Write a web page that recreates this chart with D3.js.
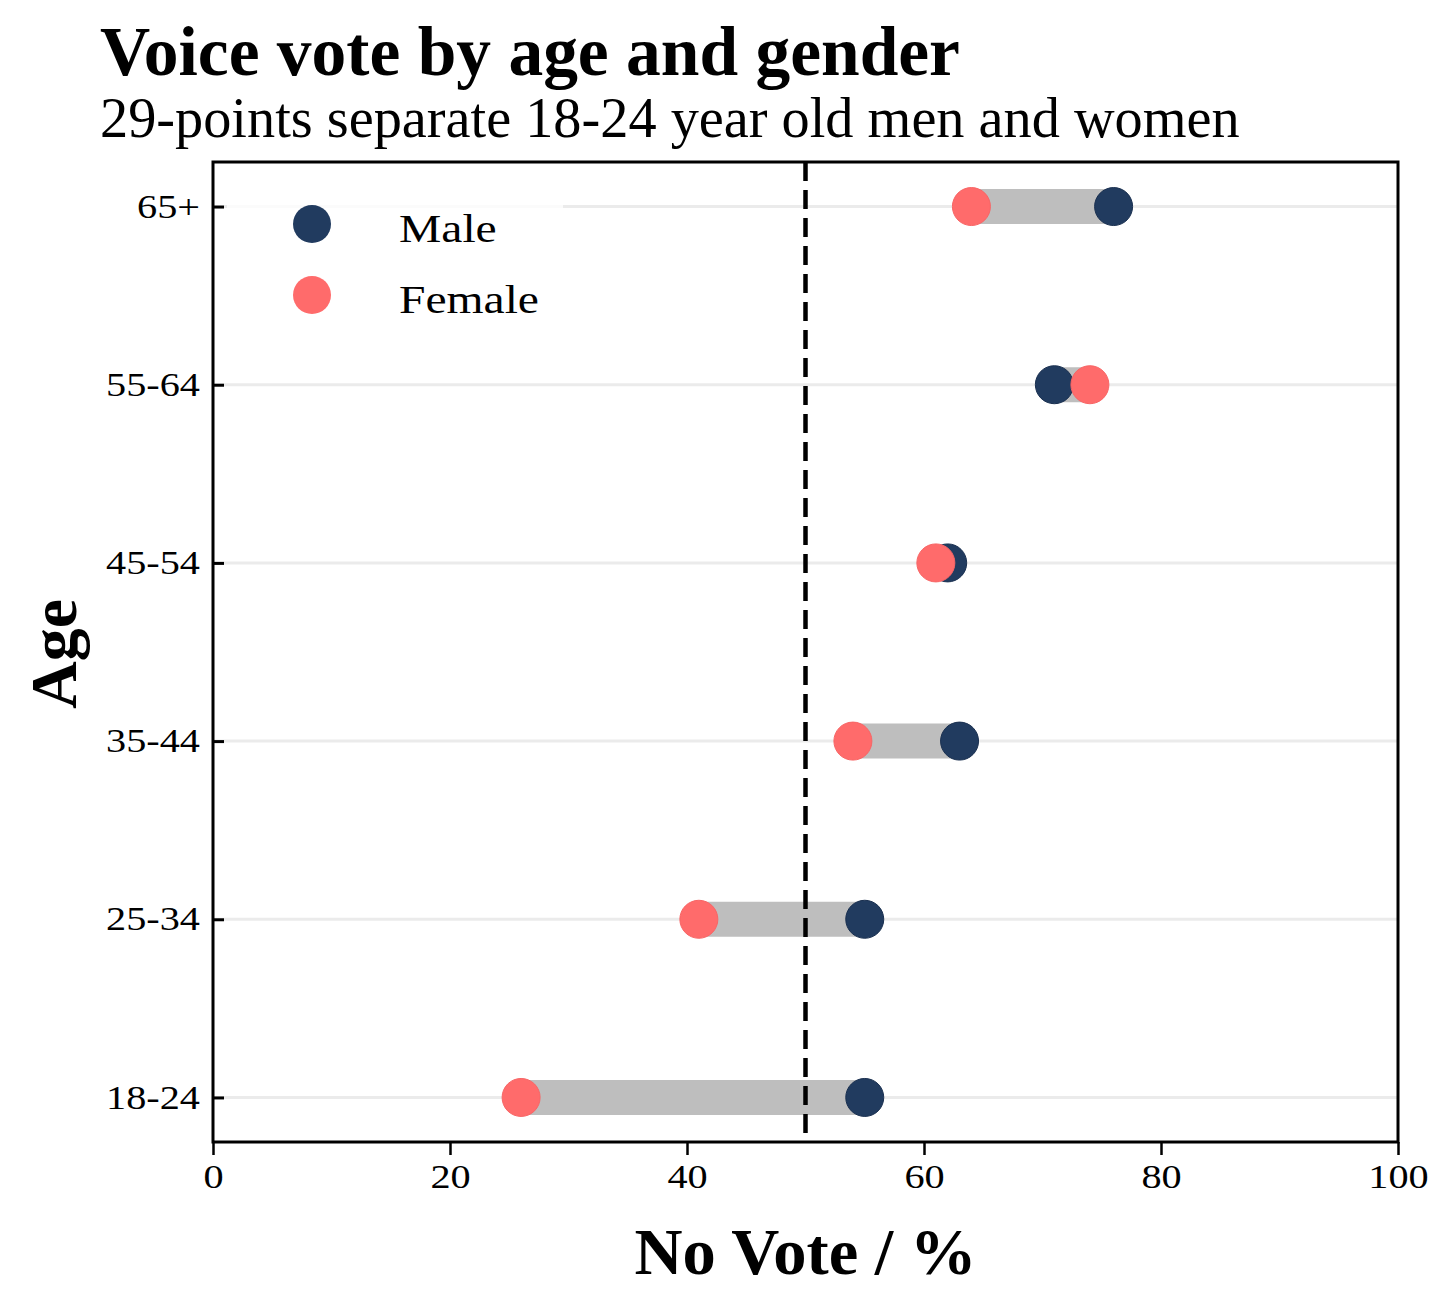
<!DOCTYPE html>
<html><head><meta charset="utf-8">
<script src="https://cdn.jsdelivr.net/npm/d3@7/dist/d3.min.js"></script>
<style>body{margin:0;background:#fff}svg{display:block}</style>
</head><body>
<script>
const ages = ["18-24","25-34","35-44","45-54","55-64","65+"];
const maleValues = [55, 55, 63, 62, 71, 76];
const femaleValues = [26, 41, 54, 61, 74, 64];
const xTicks = [0, 20, 40, 60, 80, 100];
const threshold = 50;
const titleText = "Voice vote by age and gender";
const subtitleText = "29-points separate 18-24 year old men and women";
const xLabel = "No Vote / %";
const yLabel = "Age";
const legendItems = ["Male", "Female"];

const W = 1456, H = 1315;
const FONT = "'Liberation Serif', 'Times New Roman', serif";
const maleColor = "#213b5f", femaleColor = "#ff6b6b";
const L = 213, R = 1398, T = 162, B = 1142;

const svg = d3.select("body").append("svg").attr("width", W).attr("height", H);

const x = d3.scaleLinear().domain([0, 100]).range([L, R]);
const y = d3.scaleLinear().domain([-0.25, ages.length - 0.75]).range([B, T]);

function fitText(sel, target) {
  const w = sel.node().getComputedTextLength();
  const fs = parseFloat(sel.attr("font-size"));
  sel.attr("font-size", fs * target / w);
}
function stretch(sel, sx, ax) {
  sel.attr("transform", `translate(${ax},0) scale(${sx},1) translate(${-ax},0)`);
}

// gridlines
svg.append("g").selectAll("line").data(ages).join("line")
  .attr("x1", L).attr("x2", R)
  .attr("y1", (d, i) => y(i)).attr("y2", (d, i) => y(i))
  .attr("stroke", "#ebebeb").attr("stroke-width", 3);

// legend background
svg.append("rect").attr("x", 227).attr("y", 180).attr("width", 336).attr("height", 150)
  .attr("fill", "#fff").attr("opacity", 0.8);

// connectors
svg.append("g").selectAll("line").data(ages).join("line")
  .attr("x1", (d, i) => x(femaleValues[i])).attr("x2", (d, i) => x(maleValues[i]))
  .attr("y1", (d, i) => y(i)).attr("y2", (d, i) => y(i))
  .attr("stroke", "#bebebe").attr("stroke-width", 35);

// threshold dashed line
svg.append("line").attr("x1", x(threshold)).attr("x2", x(threshold))
  .attr("y1", T).attr("y2", B)
  .attr("stroke", "#000").attr("stroke-width", 4.5).attr("stroke-dasharray", "19,9");

// dots
svg.append("g").selectAll("circle").data(ages).join("circle")
  .attr("cx", (d, i) => x(maleValues[i])).attr("cy", (d, i) => y(i)).attr("r", 19)
  .attr("fill", maleColor).attr("stroke", "#1a3050").attr("stroke-width", 1);
svg.append("g").selectAll("circle").data(ages).join("circle")
  .attr("cx", (d, i) => x(femaleValues[i])).attr("cy", (d, i) => y(i)).attr("r", 19)
  .attr("fill", femaleColor).attr("stroke", "#f86565").attr("stroke-width", 1);

// frame
svg.append("rect").attr("x", L).attr("y", T).attr("width", R - L).attr("height", B - T)
  .attr("fill", "none").attr("stroke", "#000").attr("stroke-width", 3);

// x axis
const xAxis = svg.append("g").attr("transform", `translate(0,${B})`)
  .call(d3.axisBottom(x).tickValues(xTicks).tickSize(13).tickSizeOuter(0).tickPadding(10));
xAxis.select(".domain").remove();
xAxis.selectAll(".tick line").attr("stroke", "#000").attr("stroke-width", 2.5);
xAxis.selectAll(".tick text").attr("font-family", FONT).attr("font-size", 33).attr("fill", "#000")
  .attr("dy", "0.71em").attr("transform", "scale(1.22,1)");

// y axis
const yAxis = svg.append("g").attr("transform", `translate(${L},0)`)
  .call(d3.axisLeft(y).tickValues(d3.range(ages.length)).tickFormat(i => ages[i])
    .tickSize(-11).tickSizeOuter(0).tickPadding(13));
yAxis.select(".domain").remove();
yAxis.selectAll(".tick line").attr("stroke", "#000").attr("stroke-width", 3);
yAxis.selectAll(".tick text").attr("font-family", FONT).attr("font-size", 33).attr("fill", "#000")
  .each(function () { stretch(d3.select(this), 1.22, -13); });

// legend
const legendColors = [maleColor, femaleColor];
const lg = svg.append("g");
legendItems.forEach((t, i) => {
  const cy = 224 + i * 71;
  lg.append("circle").attr("cx", 312).attr("cy", cy).attr("r", 19).attr("fill", legendColors[i]);
  const tx = lg.append("text").attr("x", 399).attr("y", cy + 18).attr("font-family", FONT)
    .attr("font-size", 41).attr("fill", "#000").text(t);
  stretch(tx, 1.16, 399);
});

// titles
const tt = svg.append("text").attr("x", 100).attr("y", 75).attr("font-family", FONT)
  .attr("font-weight", "bold").attr("font-size", 56).attr("fill", "#000").text(titleText);
fitText(tt, 860);
const st = svg.append("text").attr("x", 100).attr("y", 137).attr("font-family", FONT)
  .attr("font-size", 44).attr("fill", "#000").text(subtitleText);
fitText(st, 1140);

// axis labels
const xl = svg.append("text").attr("x", (L + R) / 2).attr("y", 1274).attr("text-anchor", "middle")
  .attr("font-family", FONT).attr("font-weight", "bold").attr("font-size", 52).attr("fill", "#000").text(xLabel);
fitText(xl, 342);
const yl = svg.append("text").attr("transform", `translate(76,${(T + B) / 2 + 2}) rotate(-90)`)
  .attr("text-anchor", "middle")
  .attr("font-family", FONT).attr("font-weight", "bold").attr("font-size", 52).attr("fill", "#000").text(yLabel);
fitText(yl, 110);
</script>
</body></html>
